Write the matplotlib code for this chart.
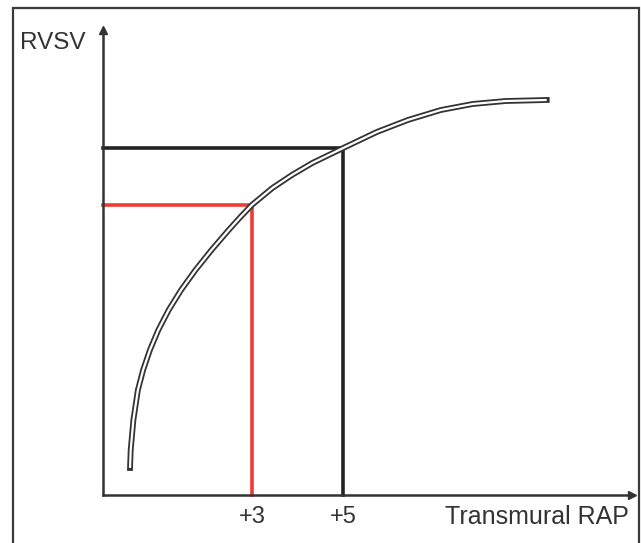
import matplotlib
matplotlib.use("Agg")
import matplotlib.pyplot as plt
from matplotlib.patches import Rectangle

# Curve (transmural RAP vs RVSV, arbitrary units)
curve_x = [0.319, 0.334, 0.393, 0.492, 0.607, 0.756, 0.941, 1.169, 1.442, 1.758,
           2.110, 2.488, 2.736, 3.0, 3.448, 3.877, 4.325, 5.0, 5.741, 6.426,
           7.152, 7.851, 8.576, 9.477]
curve_y = [5.81, 9.68, 16.13, 22.58, 26.88, 31.18, 35.48, 39.78, 44.09, 48.39,
           52.69, 56.99, 59.68, 62.4, 66.02, 68.82, 71.40, 74.6, 78.06, 80.65,
           82.80, 84.09, 84.73, 84.95]

# Marked points
red_x, red_y = 3.0, 62.4
black_x, black_y = 5.0, 74.6
tick_vals = [3, 5]
tick_labels = ["+3", "+5"]
xlabel = "Transmural RAP"
ylabel = "RVSV"

W, H = 641, 543
fig = plt.figure(figsize=(W / 100, H / 100), dpi=100)
plt.rcParams['font.family'] = ['Liberation Sans', 'DejaVu Sans']
txt_color = "#333333"

# outer frame
fig.add_artist(Rectangle((13 / W, -0.01), (639 - 13) / W, (H - 8) / H + 0.01,
                         transform=fig.transFigure, fill=False, lw=1.6, ec="#3a3a3a"))

x0, x1 = 103, 632
y0, y1 = 495, 30
ax = fig.add_axes([x0 / W, (H - y0) / H, (x1 - x0) / W, (y0 - y1) / H])
xmin = (103 - 115.5) / 45.5
xmax = (632 - 115.5) / 45.5
ax.set_xlim(xmin, xmax)
ax.set_ylim(0, 100)
for s in ["top", "right"]:
    ax.spines[s].set_visible(False)
for s in ["left", "bottom"]:
    ax.spines[s].set_linewidth(1.8)
    ax.spines[s].set_color("#333333")
ax.set_yticks([])
ax.set_xticks(tick_vals)
ax.set_xticklabels(tick_labels, fontsize=17, color=txt_color)
for lab in ax.get_xticklabels():
    lab.set_verticalalignment("baseline")
ax.tick_params(axis="x", length=0, pad=20)
ax.patch.set_alpha(0)

# arrow heads
ax.plot([1], [0], marker=">", transform=ax.transAxes, color="#333333", ms=6, clip_on=False)
ax.plot([0], [1], marker="^", transform=ax.transAxes, color="#333333", ms=6, clip_on=False)

# reference lines
ax.plot([xmin, black_x, black_x], [black_y, black_y, 0], color="#222222", lw=2.6,
        solid_joinstyle="miter", clip_on=False)
ax.plot([xmin, red_x, red_x], [red_y, red_y, 0], color="#ee3b33", lw=2.6,
        solid_joinstyle="miter", clip_on=False)

# double-line curve
ax.plot(curve_x, curve_y, color="#333333", lw=4.2, solid_capstyle="projecting",
        solid_joinstyle="round", zorder=5)
ax.plot(curve_x, curve_y, color="white", lw=1.6, solid_capstyle="butt",
        solid_joinstyle="round", zorder=6)

fig.text(20 / W, (H - 49) / H, ylabel, fontsize=17.5, color=txt_color, va="baseline", ha="left")
fig.text(629 / W, (H - 524) / H, xlabel, fontsize=18, color=txt_color, va="baseline", ha="right")

fig.savefig("out.png", dpi=100)
